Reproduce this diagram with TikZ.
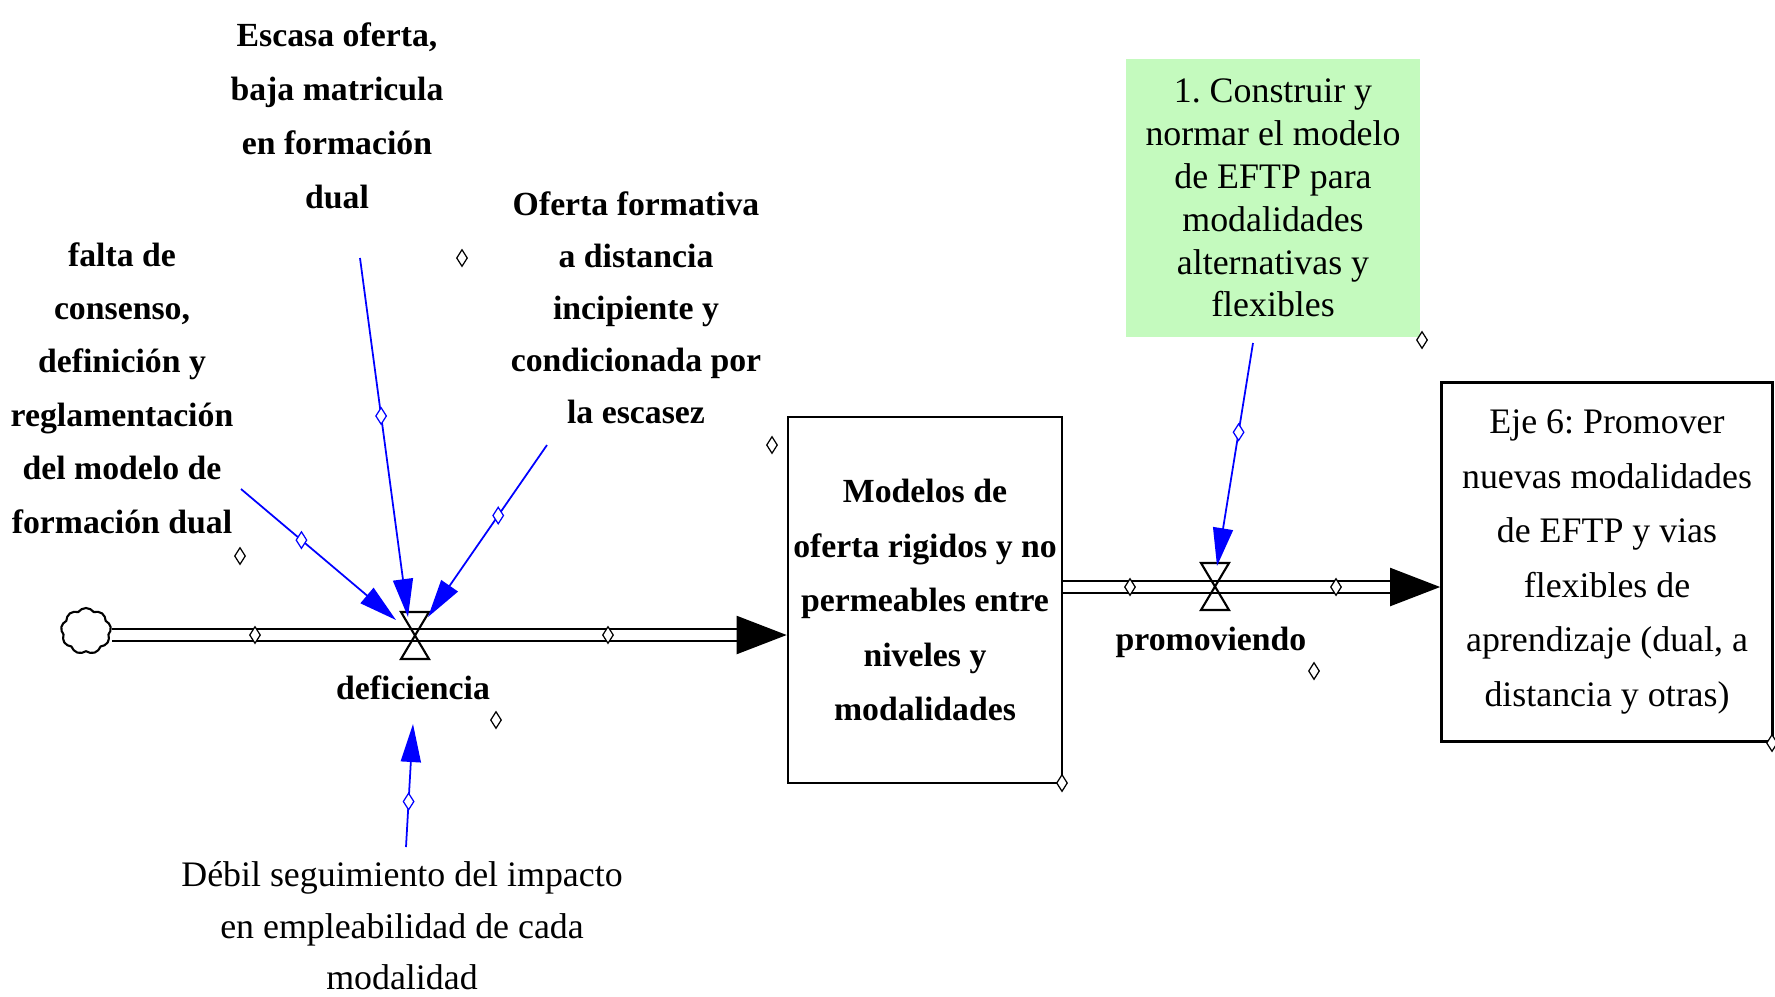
\documentclass[tikz,border=0pt]{standalone}
\usepackage{fontspec}
\setmainfont{Liberation Serif}
\usetikzlibrary{arrows.meta,shapes.geometric,shapes.symbols}
\definecolor{verdeclaro}{RGB}{196,250,190}
\frenchspacing

\begin{document}
\begin{tikzpicture}[x=0.01cm,y=-0.01cm,
  lbl/.style={font=\bfseries\fontsize{9.6}{15.3}\selectfont,align=center,inner sep=0pt},
  txt/.style={font=\fontsize{10.2}{15.5}\selectfont,align=center,inner sep=0pt},
  infl/.style={blue,line width=0.5pt,-{Triangle[length=0.38cm,width=0.2cm]}},
  handle/.style={diamond,draw,fill=white,inner sep=0pt,minimum width=0.11cm,minimum height=0.17cm,line width=0.35pt},
  pipe/.style={double,double distance=2.7pt,line width=0.6pt},
  pipehead/.style={line width=0.6pt,-{Triangle[length=0.5cm,width=0.38cm]}},
  valve/.style={line width=0.6pt}]
 \useasboundingbox (0,0) rectangle (1775,996);

% stocks
 \node [draw,line width=0.7pt,align=center,inner sep=0pt,font=\bfseries\fontsize{9.6}{15.5}\selectfont,
   minimum width=2.74cm,minimum height=3.66cm] (modelos) at (925,600)
   {Modelos de\\oferta rigidos y no\\permeables entre\\niveles y\\modalidades};
 \node [draw,line width=0.7pt,txt,minimum width=3.31cm,minimum height=3.59cm] (eje) at (1607,562)
   {Eje 6: Promover\\nuevas modalidades\\de EFTP y vias\\flexibles de\\aprendizaje (dual, a\\distancia y otras)};
 \node [fill=verdeclaro,align=center,inner sep=0pt,font=\fontsize{10.2}{12.2}\selectfont,
   minimum width=2.94cm,minimum height=2.78cm] (construir) at (1273,198)
   {1. Construir y\\normar el modelo\\de EFTP para\\modalidades\\alternativas y\\flexibles};

% variables
 \node [lbl] (escasa) at (337,116) {Escasa oferta,\\baja matricula\\en formación\\dual};
 \node [lbl,font=\bfseries\fontsize{9.6}{14.8}\selectfont] (oferta) at (636,308)
   {Oferta formativa\\a distancia\\incipiente y\\condicionada por\\la escasez};
 \node [lbl,font=\bfseries\fontsize{9.6}{15.2}\selectfont] (falta) at (122,388)
   {falta de\\consenso,\\definición y\\reglamentación\\del modelo de\\formación dual};
 \node [txt,font=\fontsize{10.2}{14.6}\selectfont] (debil) at (402,926)
   {Débil seguimiento del impacto\\en empleabilidad de cada\\modalidad};

% flows
 \node [cloud,draw,cloud puffs=9,cloud puff arc=110,aspect=1.1,inner sep=0pt,
   minimum width=0.5cm,minimum height=0.46cm,line width=0.6pt] (nube) at (86,631) {};
 \coordinate (vdef) at (415,635);
 \coordinate (vpro) at (1215,587);
 \coordinate (p1b) at (738,635);
 \coordinate (p2b) at (1392,587);
 \draw [pipe] (nube.east |- vdef) -- (p1b);
 \draw [pipehead] (p1b) -- (modelos.west |- vdef);
 \draw [pipe] (modelos.east |- vpro) -- (p2b);
 \draw [pipehead] (p2b) -- (eje.west |- vpro);
 \draw [valve] (vdef) ++(-14,-23) -- ++(28,0) -- ++(-28,47) -- ++(28,0) -- cycle;
 \draw [valve] (vpro) ++(-14,-24) -- ++(28,0) -- ++(-28,47) -- ++(28,0) -- cycle;
 \node [lbl] (deficiencia) at (413,688) {deficiencia};
 \node [lbl] (promoviendo) at (1211,642) {promoviendo};

% handles on the pipes and the corners
 \node [handle] (h1) at (255,635) {};
 \node [handle] (h2) at (608,635) {};
 \node [handle] (h3) at (1130,587) {};
 \node [handle] (h4) at (1336,587) {};
 \node [handle] (h5) at (462,258) {};
 \node [handle] (h6) at (772,445) {};
 \node [handle] (h7) at (1062,783) {};
 \node [handle] (h8) at (1422,340) {};
 \node [handle] (h9) at (1314,671) {};
 \node [handle] (h10) at (240,556) {};
 \node [handle] (h11) at (496,720) {};
 \node [handle] (h12) at (1772,743) {};

% influences
 \coordinate (escasa-o) at (360,258);
 \coordinate (oferta-o) at (547,445);
 \coordinate (falta-o) at (241,489);
 \coordinate (debil-o) at (406,847);
 \coordinate (construir-o) at (1253,343);
 \coordinate (deficiencia-i) at (413,724);
 \draw [infl] (falta-o) -- node[handle,draw=blue,fill=white,pos=0.39] (hf) {} ([shift={(-19,-15)}]vdef);
 \draw [infl] (escasa-o) -- node[handle,draw=blue,fill=white,pos=0.44] (he) {} ([shift={(-7,-18)}]vdef);
 \draw [infl] (oferta-o) -- node[handle,draw=blue,fill=white,pos=0.41] (ho) {} ([shift={(13,-18)}]vdef);
 \draw [infl] (debil-o) -- node[handle,draw=blue,fill=white,pos=0.37] (hd) {} (deficiencia-i);
 \draw [infl] (construir-o) -- node[handle,draw=blue,fill=white,pos=0.40] (hc) {} ([shift={(2,-21)}]vpro);

\end{tikzpicture}
\end{document}
